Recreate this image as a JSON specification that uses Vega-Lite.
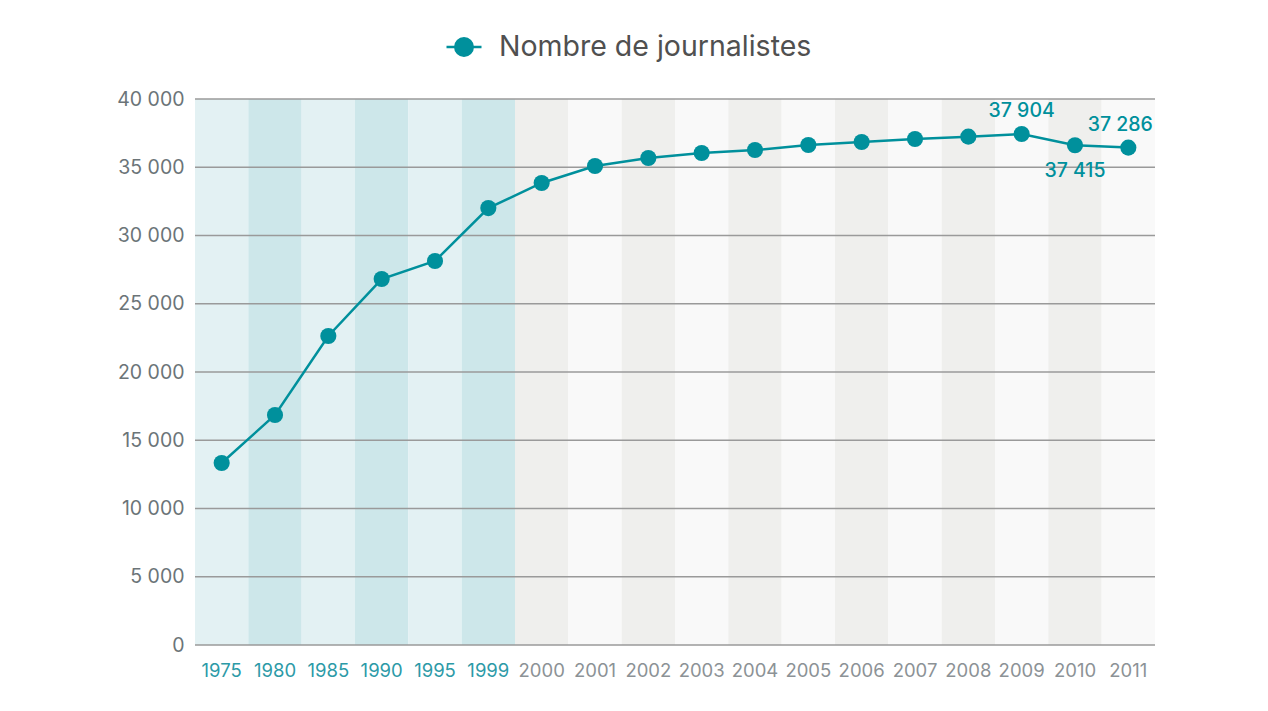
{
  "$schema": "https://vega.github.io/schema/vega-lite/v6.json",
  "width": 960,
  "height": 546,
  "autosize": {"type": "none"},
  "padding": {"left": 195, "top": 99, "right": 113, "bottom": 66},
  "background": "#ffffff",
  "datasets": {
    "serie": [
      {"annee": "1975", "valeur": 13330, "bande": "t1"},
      {"annee": "1980", "valeur": 16850, "bande": "t2"},
      {"annee": "1985", "valeur": 22640, "bande": "t1"},
      {"annee": "1990", "valeur": 26810, "bande": "t2"},
      {"annee": "1995", "valeur": 28130, "bande": "t1"},
      {"annee": "1999", "valeur": 32010, "bande": "t2"},
      {"annee": "2000", "valeur": 33850, "bande": "g2"},
      {"annee": "2001", "valeur": 35090, "bande": "g1"},
      {"annee": "2002", "valeur": 35680, "bande": "g2"},
      {"annee": "2003", "valeur": 36040, "bande": "g1"},
      {"annee": "2004", "valeur": 36260, "bande": "g2"},
      {"annee": "2005", "valeur": 36630, "bande": "g1"},
      {"annee": "2006", "valeur": 36850, "bande": "g2"},
      {"annee": "2007", "valeur": 37070, "bande": "g1"},
      {"annee": "2008", "valeur": 37240, "bande": "g2"},
      {"annee": "2009", "valeur": 37436, "bande": "g1", "etiquette": "37 904"},
      {"annee": "2010", "valeur": 36610, "bande": "g2", "etiquette": "37 415"},
      {"annee": "2011", "valeur": 36440, "bande": "g1", "etiquette": "37 286"}
    ],
    "grille": [
      {"v": 0}, {"v": 5000}, {"v": 10000}, {"v": 15000}, {"v": 20000},
      {"v": 25000}, {"v": 30000}, {"v": 35000}, {"v": 40000}
    ]
  },
  "config": {
    "view": {"stroke": null},
    "font": "Inter"
  },
  "encoding": {
    "x": {
      "field": "annee",
      "type": "nominal",
      "sort": null,
      "scale": {"paddingInner": 0, "paddingOuter": 0},
      "axis": {
        "title": null,
        "domain": false,
        "ticks": false,
        "labelAngle": 0,
        "labelFontSize": 18.5,
        "labelPadding": 16,
        "labelColor": {
          "condition": {"test": "toNumber(datum.value) < 2000", "value": "#2c9aa7"},
          "value": "#8c9296"
        }
      }
    }
  },
  "layer": [
    {
      "data": {"name": "serie"},
      "mark": {"type": "rect"},
      "encoding": {
        "y": {"datum": 0, "type": "quantitative"},
        "y2": {"datum": 40000},
        "color": {
          "field": "bande",
          "type": "nominal",
          "scale": {"domain": ["t1", "t2", "g1", "g2"], "range": ["#e3f1f3", "#cde7ea", "#f9f9f9", "#efefed"]},
          "legend": null
        }
      }
    },
    {
      "data": {"name": "grille"},
      "mark": {"type": "rule", "color": "#9a9a9a", "strokeWidth": 1.5},
      "encoding": {
        "x": null,
        "y": {"field": "v", "type": "quantitative"}
      }
    },
    {
      "data": {"name": "serie"},
      "mark": {"type": "line", "color": "#00909c", "strokeWidth": 2.5},
      "encoding": {
        "y": {
          "field": "valeur",
          "type": "quantitative",
          "scale": {"domain": [0, 40000], "nice": false},
          "axis": {
            "title": null,
            "grid": false,
            "domain": false,
            "ticks": false,
            "values": [0, 5000, 10000, 15000, 20000, 25000, 30000, 35000, 40000],
            "labelExpr": "replace(format(datum.value, ','), ',', ' ')",
            "labelFontSize": 19.5,
            "labelColor": "#6b7478",
            "labelPadding": 11
          }
        }
      }
    },
    {
      "data": {"name": "serie"},
      "mark": {"type": "point", "filled": true, "opacity": 1, "size": 260},
      "encoding": {
        "y": {"field": "valeur", "type": "quantitative"},
        "color": {
          "datum": "Nombre de journalistes",
          "type": "nominal",
          "scale": {"range": ["#00909c"]},
          "legend": {
            "title": null,
            "orient": "none",
            "legendX": 250,
            "legendY": -71,
            "labelFontSize": 28.5,
            "labelFontWeight": 400,
            "labelLimit": 0,
            "labelColor": "#505050",
            "labelOffset": 16,
            "symbolType": "M-1,0L1,0M-0.5,0A0.5,0.5,0,1,1,0.5,0A0.5,0.5,0,1,1,-0.5,0Z",
            "symbolSize": 1225,
            "symbolStrokeColor": "#00909c",
            "symbolFillColor": "#00909c",
            "symbolStrokeWidth": 2.5
          }
        }
      }
    },
    {
      "data": {"name": "serie"},
      "transform": [{"filter": "datum.annee == '2009'"}],
      "mark": {"type": "text", "color": "#00909c", "fontSize": 19.5, "fontWeight": 500, "dy": -23, "baseline": "middle"},
      "encoding": {"y": {"field": "valeur", "type": "quantitative"}, "text": {"field": "etiquette"}}
    },
    {
      "data": {"name": "serie"},
      "transform": [{"filter": "datum.annee == '2010'"}],
      "mark": {"type": "text", "color": "#00909c", "fontSize": 19.5, "fontWeight": 500, "dy": 26, "baseline": "middle"},
      "encoding": {"y": {"field": "valeur", "type": "quantitative"}, "text": {"field": "etiquette"}}
    },
    {
      "data": {"name": "serie"},
      "transform": [{"filter": "datum.annee == '2011'"}],
      "mark": {"type": "text", "color": "#00909c", "fontSize": 19.5, "fontWeight": 500, "dy": -23, "dx": -8, "baseline": "middle"},
      "encoding": {"y": {"field": "valeur", "type": "quantitative"}, "text": {"field": "etiquette"}}
    }
  ],
  "resolve": {"scale": {"color": "independent"}, "legend": {"color": "independent"}}
}
